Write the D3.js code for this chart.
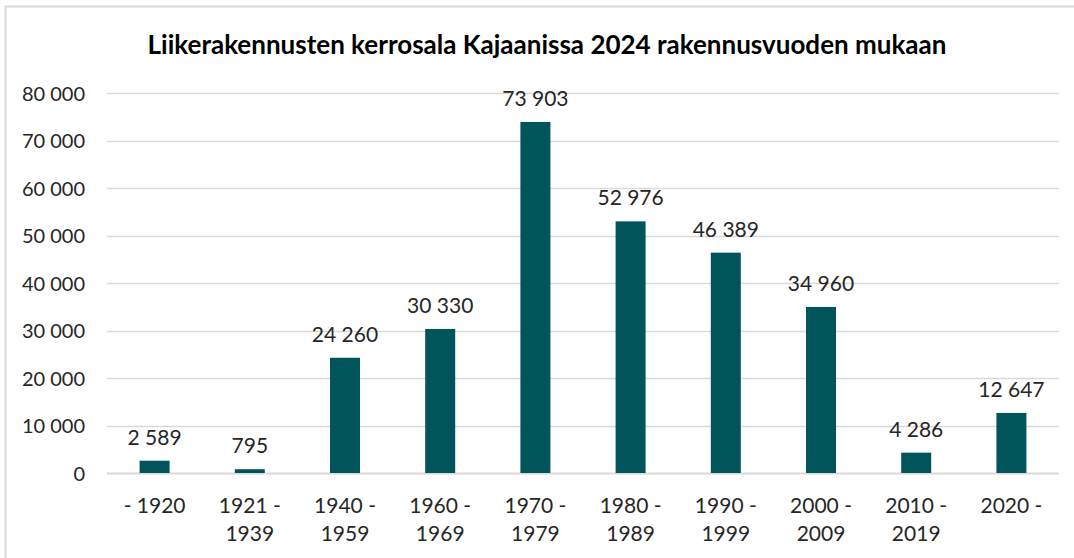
<!DOCTYPE html>
<html>
<head>
<meta charset="utf-8">
<script src="https://cdn.jsdelivr.net/npm/d3@7"></script>
<style>
  body { margin: 0; background: #fff; }
  text { font-family: Lato, "Open Sans", sans-serif; fill: #262626; }
  .title { font-weight: bold; font-size: 26px; fill: #000; }
  .tick text { font-size: 20px; }
  .label { font-size: 21px; }
</style>
</head>
<body>
<div class="chart"></div>
<script>
// data
var categories = [["- 1920"], ["1921 -", "1939"], ["1940 -", "1959"], ["1960 -", "1969"], ["1970 -", "1979"],
  ["1980 -", "1989"], ["1990 -", "1999"], ["2000 -", "2009"], ["2010 -", "2019"], ["2020 -"]];
var values = [2589, 795, 24260, 30330, 73903, 52976, 46389, 34960, 4286, 12647];
var yTicks = [0, 10000, 20000, 30000, 40000, 50000, 60000, 70000, 80000];

// dimensions
var W = 1074, H = 558;
var margin = {top: 93, right: 15, bottom: 85, left: 107};
var width = W - margin.left - margin.right;
var height = H - margin.top - margin.bottom;

var fmt = d3.formatLocale({decimal: ",", thousands: "\u00a0", grouping: [3], currency: ["", ""]}).format(",d");

var x = d3.scaleBand()
  .domain(d3.range(values.length))
  .range([0, width])
  .paddingInner(0.685)
  .paddingOuter(0.3425);
var y = d3.scaleLinear()
  .domain([0, 80000])
  .range([height, 0]);

var svg = d3.select(".chart")
  .append("svg")
  .attr("width", W)
  .attr("height", H);

// outer border
svg.append("rect")
  .attr("x", 5.5).attr("y", 6.5)
  .attr("width", W + 10).attr("height", H + 10)
  .attr("fill", "none")
  .attr("stroke", "#d9d9d9")
  .attr("stroke-width", 2);

// title
svg.append("text")
  .attr("class", "title")
  .attr("x", 547)
  .attr("y", 54)
  .attr("text-anchor", "middle")
  .text("Liikerakennusten kerrosala Kajaanissa 2024 rakennusvuoden mukaan");

var chart = svg.append("g")
  .attr("transform", "translate(" + margin.left + "," + margin.top + ")");

// gridlines
chart.selectAll(".grid")
  .data(yTicks)
  .enter()
  .append("line")
  .attr("x1", 0)
  .attr("x2", width)
  .attr("y1", function(d) { return Math.round(y(d)) + 0.5; })
  .attr("y2", function(d) { return Math.round(y(d)) + 0.5; })
  .attr("stroke", "#d9d9d9")
  .attr("stroke-width", function(d) { return d === 0 ? 2 : 1.5; });

// y axis
var yAxis = chart.append("g")
  .call(d3.axisLeft(y).tickValues(yTicks).tickFormat(fmt).tickSize(0).tickPadding(22));
yAxis.select(".domain").remove();
yAxis.selectAll(".tick text").attr("dy", "0.35em");

// bars
chart.selectAll(".bar")
  .data(values)
  .enter()
  .append("rect")
  .attr("class", "bar")
  .attr("x", function(d, i) { return x(i); })
  .attr("width", x.bandwidth())
  .attr("y", function(d) { return y(d); })
  .attr("height", function(d) { return height - y(d); })
  .attr("fill", "#00545a");

// value labels
chart.selectAll(".label")
  .data(values)
  .enter()
  .append("text")
  .attr("class", "label")
  .attr("text-anchor", "middle")
  .attr("x", function(d, i) { return x(i) + x.bandwidth() / 2; })
  .attr("y", function(d) { return y(d) - 16; })
  .text(function(d) { return fmt(d); });

// x labels
var xl = chart.selectAll(".xlabel")
  .data(categories)
  .enter()
  .append("text")
  .attr("class", "label")
  .attr("text-anchor", "middle")
  .attr("transform", function(d, i) {
    return "translate(" + (x(i) + x.bandwidth() / 2) + "," + (height + 40) + ")";
  });
xl.selectAll("tspan")
  .data(function(d) { return d; })
  .enter()
  .append("tspan")
  .attr("x", 0)
  .attr("dy", function(d, i) { return i === 0 ? 0 : 28; })
  .text(function(d) { return d; });
</script>
</body>
</html>
